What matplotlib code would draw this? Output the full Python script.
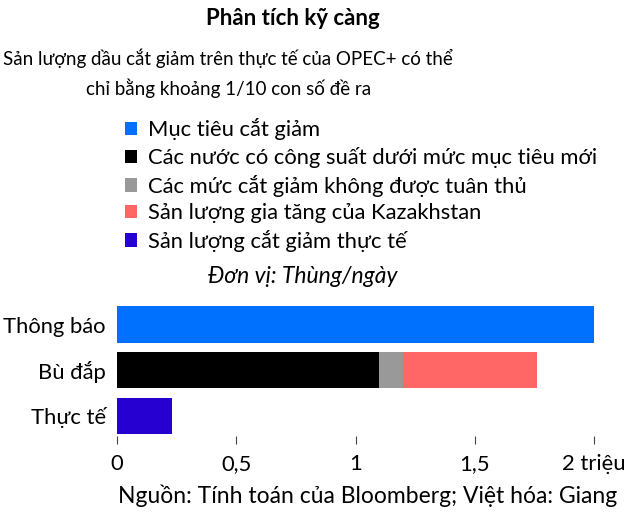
import matplotlib
matplotlib.use("Agg")
import matplotlib.pyplot as plt

plt.rcParams['font.family'] = ['Lato', 'DejaVu Sans']

categories = ['Thông báo', 'Bù đắp', 'Thực tế']

# million barrels/day
target = [2.0, 0, 0]
below_capacity = [0, 1.1, 0]
not_complied = [0, 0.1, 0]
kazakhstan = [0, 0.56, 0]
actual = [0, 0, 0.23]

series = [
    ('Mục tiêu cắt giảm', target, '#0070ff'),
    ('Các nước có công suất dưới mức mục tiêu mới', below_capacity, '#000000'),
    ('Các mức cắt giảm không được tuân thủ', not_complied, '#999999'),
    ('Sản lượng gia tăng của Kazakhstan', kazakhstan, '#ff6666'),
    ('Sản lượng cắt giảm thực tế', actual, '#2600d1'),
]

xticks = [0, 0.5, 1, 1.5, 2]
xtick_labels = ['0', '0,5', '1', '1,5', '2 triệu']

fig = plt.figure(figsize=(6.39, 5.22), dpi=100)
ax = fig.add_axes([0.1831, 0.1648, 0.7465, 0.2529])

y = list(range(len(categories)))
left = [0] * len(categories)
handles = []
for label, vals, color in series:
    b = ax.barh(y, vals, left=left, height=0.8, color=color, label=label)
    handles.append(b)
    left = [l + v for l, v in zip(left, vals)]

ax.set_xlim(0, 2)
ax.set_ylim(2.44, -0.45)
ax.set_yticks(y, categories, fontsize=15.8)
ax.set_xticks(xticks, xtick_labels, fontsize=15.8)
ax.tick_params(axis='y', length=0, pad=8)
ax.tick_params(axis='x', length=6, color='#444444', pad=7)
for s in ax.spines.values():
    s.set_visible(False)

fig.text(0.459, 0.965, 'Phân tích kỹ càng', ha='center', va='center',
         fontsize=16, fontweight='bold')
fig.text(0.357, 0.860, 'Sản lượng dầu cắt giảm trên thực tế của OPEC+ có thể\nchỉ bằng khoảng 1/10 con số đề ra',
         ha='center', va='center', fontsize=13.5, linespacing=1.65)
fig.text(0.474, 0.471, 'Đơn vị: Thùng/ngày', ha='center', va='center',
         fontsize=16.5, style='italic')
fig.text(0.185, 0.05, 'Nguồn: Tính toán của Bloomberg; Việt hóa: Giang',
         ha='left', va='center', fontsize=16.5)

fig.legend(handles=handles, loc='upper left', bbox_to_anchor=(0.195, 0.773),
           frameon=False, fontsize=15.8, handlelength=0.55, handleheight=0.55,
           handletextpad=0.5, labelspacing=0.3, borderpad=0, borderaxespad=0)

fig.savefig('out.png', dpi=100)
